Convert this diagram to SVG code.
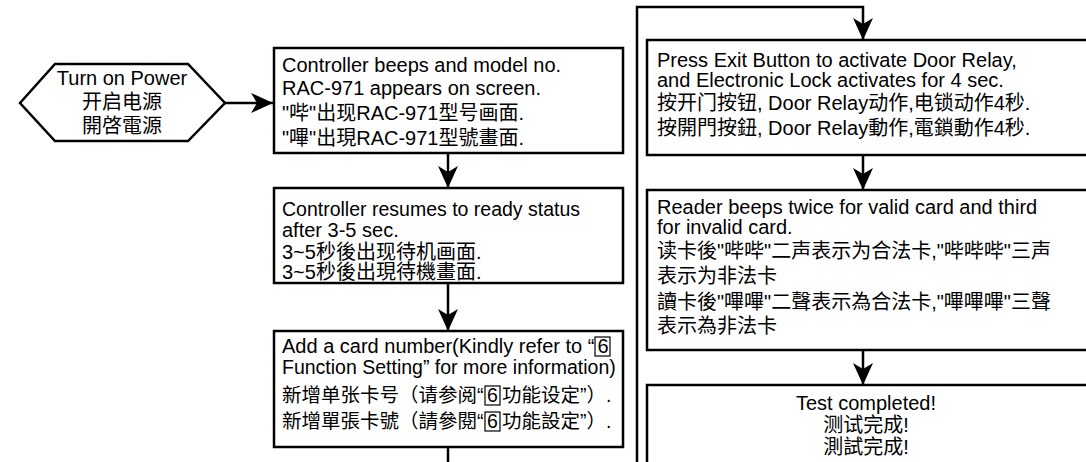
<svg xmlns="http://www.w3.org/2000/svg" width="1086" height="462" viewBox="0 0 1086 462">
<style>
.box{fill:#fff;stroke:#000;stroke-width:2.5}
.ln{fill:none;stroke:#000;stroke-width:2.5}
.t{font-family:"Liberation Sans","Noto Sans CJK SC",sans-serif;font-size:20px;fill:#000}
.tc{font-family:"Liberation Sans","Noto Sans CJK TC",sans-serif;font-size:20px;fill:#000}
.s{font-size:19.5px}
.mid{text-anchor:middle}
.bx{fill:none;stroke:#000;stroke-width:1.2}
</style>
<defs>
<marker id="arr" markerUnits="userSpaceOnUse" viewBox="0 0 22 20" refX="22" refY="10" markerWidth="22" markerHeight="20" orient="auto">
<path d="M0,0 L22,10 L0,20 L6,10 Z" fill="#000"/>
</marker>
</defs>
<rect width="1086" height="462" fill="#fff"/>
<g id="connectors">
<path class="ln" d="M225,103 H273" marker-end="url(#arr)"/>
<path class="ln" d="M448,153 V188" marker-end="url(#arr)"/>
<path class="ln" d="M448,283 V331" marker-end="url(#arr)"/>
<path class="ln" d="M448,447 V480 H637 V7 H863 V40" marker-end="url(#arr)"/>
<path class="ln" d="M863,155 V190" marker-end="url(#arr)"/>
<path class="ln" d="M863,350 V385" marker-end="url(#arr)"/>
</g>
<g id="start">
<polygon class="box" points="20,103 55,64 188,64 225,103 188,141 55,141"/>
<text class="t mid" x="122" y="85">Turn on Power</text>
<text class="t mid" x="122" y="109">开启电源</text>
<text class="tc mid" x="122" y="133">開啓電源</text>
</g>
<g id="n1">
<rect class="box" x="274" y="48" width="349" height="105"/>
<text class="t" x="282" y="72">Controller beeps and model no.</text>
<text class="t" x="282" y="95">RAC-971 appears on screen.</text>
<text class="t" x="282" y="120">"哔"出现RAC-971型号画面.</text>
<text class="tc" x="282" y="145">"嗶"出現RAC-971型號畫面.</text>
</g>
<g id="n2">
<rect class="box" x="274" y="188" width="349" height="95"/>
<text class="t s" x="282" y="216">Controller resumes to ready status</text>
<text class="t" x="282" y="237">after 3-5 sec.</text>
<text class="t" x="282" y="259">3~5秒後出现待机画面.</text>
<text class="tc" x="282" y="279">3~5秒後出現待機畫面.</text>
</g>
<g id="n3">
<rect class="box" x="274" y="331" width="349" height="116"/>
<text class="t" x="282" y="353">Add a card number(Kindly refer to “<tspan dx="3">6</tspan></text>
<rect class="bx" x="595" y="337" width="15" height="19"/>
<text class="t s" x="282" y="374">Function Setting” for more information)</text>
<text class="t s" x="282" y="402">新增单张卡号（请参阅“</text>
<text class="t s" x="487" y="402">6</text>
<rect class="bx" x="485" y="386" width="15" height="19"/>
<text class="t s" x="502" y="402">功能设定”）.</text>
<text class="tc s" x="282" y="428">新增單張卡號（請參閱“</text>
<text class="tc s" x="487" y="428">6</text>
<rect class="bx" x="485" y="412" width="15" height="19"/>
<text class="tc s" x="502" y="428">功能設定”）.</text>
</g>
<g id="n4">
<rect class="box" x="647" y="40" width="450" height="115"/>
<text class="t" x="657" y="67">Press Exit Button to activate Door Relay,</text>
<text class="t" x="657" y="87">and Electronic Lock activates for 4 sec.</text>
<text class="t" x="657" y="110">按开门按钮, Door Relay动作,电锁动作4秒.</text>
<text class="tc" x="657" y="135">按開門按鈕, Door Relay動作,電鎖動作4秒.</text>
</g>
<g id="n5">
<rect class="box" x="647" y="190" width="450" height="160"/>
<text class="t" x="657" y="214">Reader beeps twice for valid card and third</text>
<text class="t" x="657" y="234">for invalid card.</text>
<text class="t" x="657" y="258">读卡後"哔哔"二声表示为合法卡,"哔哔哔"三声</text>
<text class="t" x="657" y="283">表示为非法卡</text>
<text class="tc" x="657" y="309">讀卡後"嗶嗶"二聲表示為合法卡,"嗶嗶嗶"三聲</text>
<text class="tc" x="657" y="333">表示為非法卡</text>
</g>
<g id="n6">
<rect class="box" x="647" y="385" width="450" height="100"/>
<text class="t mid" x="866" y="410">Test completed!</text>
<text class="t mid" x="866" y="432">测试完成!</text>
<text class="tc mid" x="866" y="454">測試完成!</text>
</g>
</svg>
